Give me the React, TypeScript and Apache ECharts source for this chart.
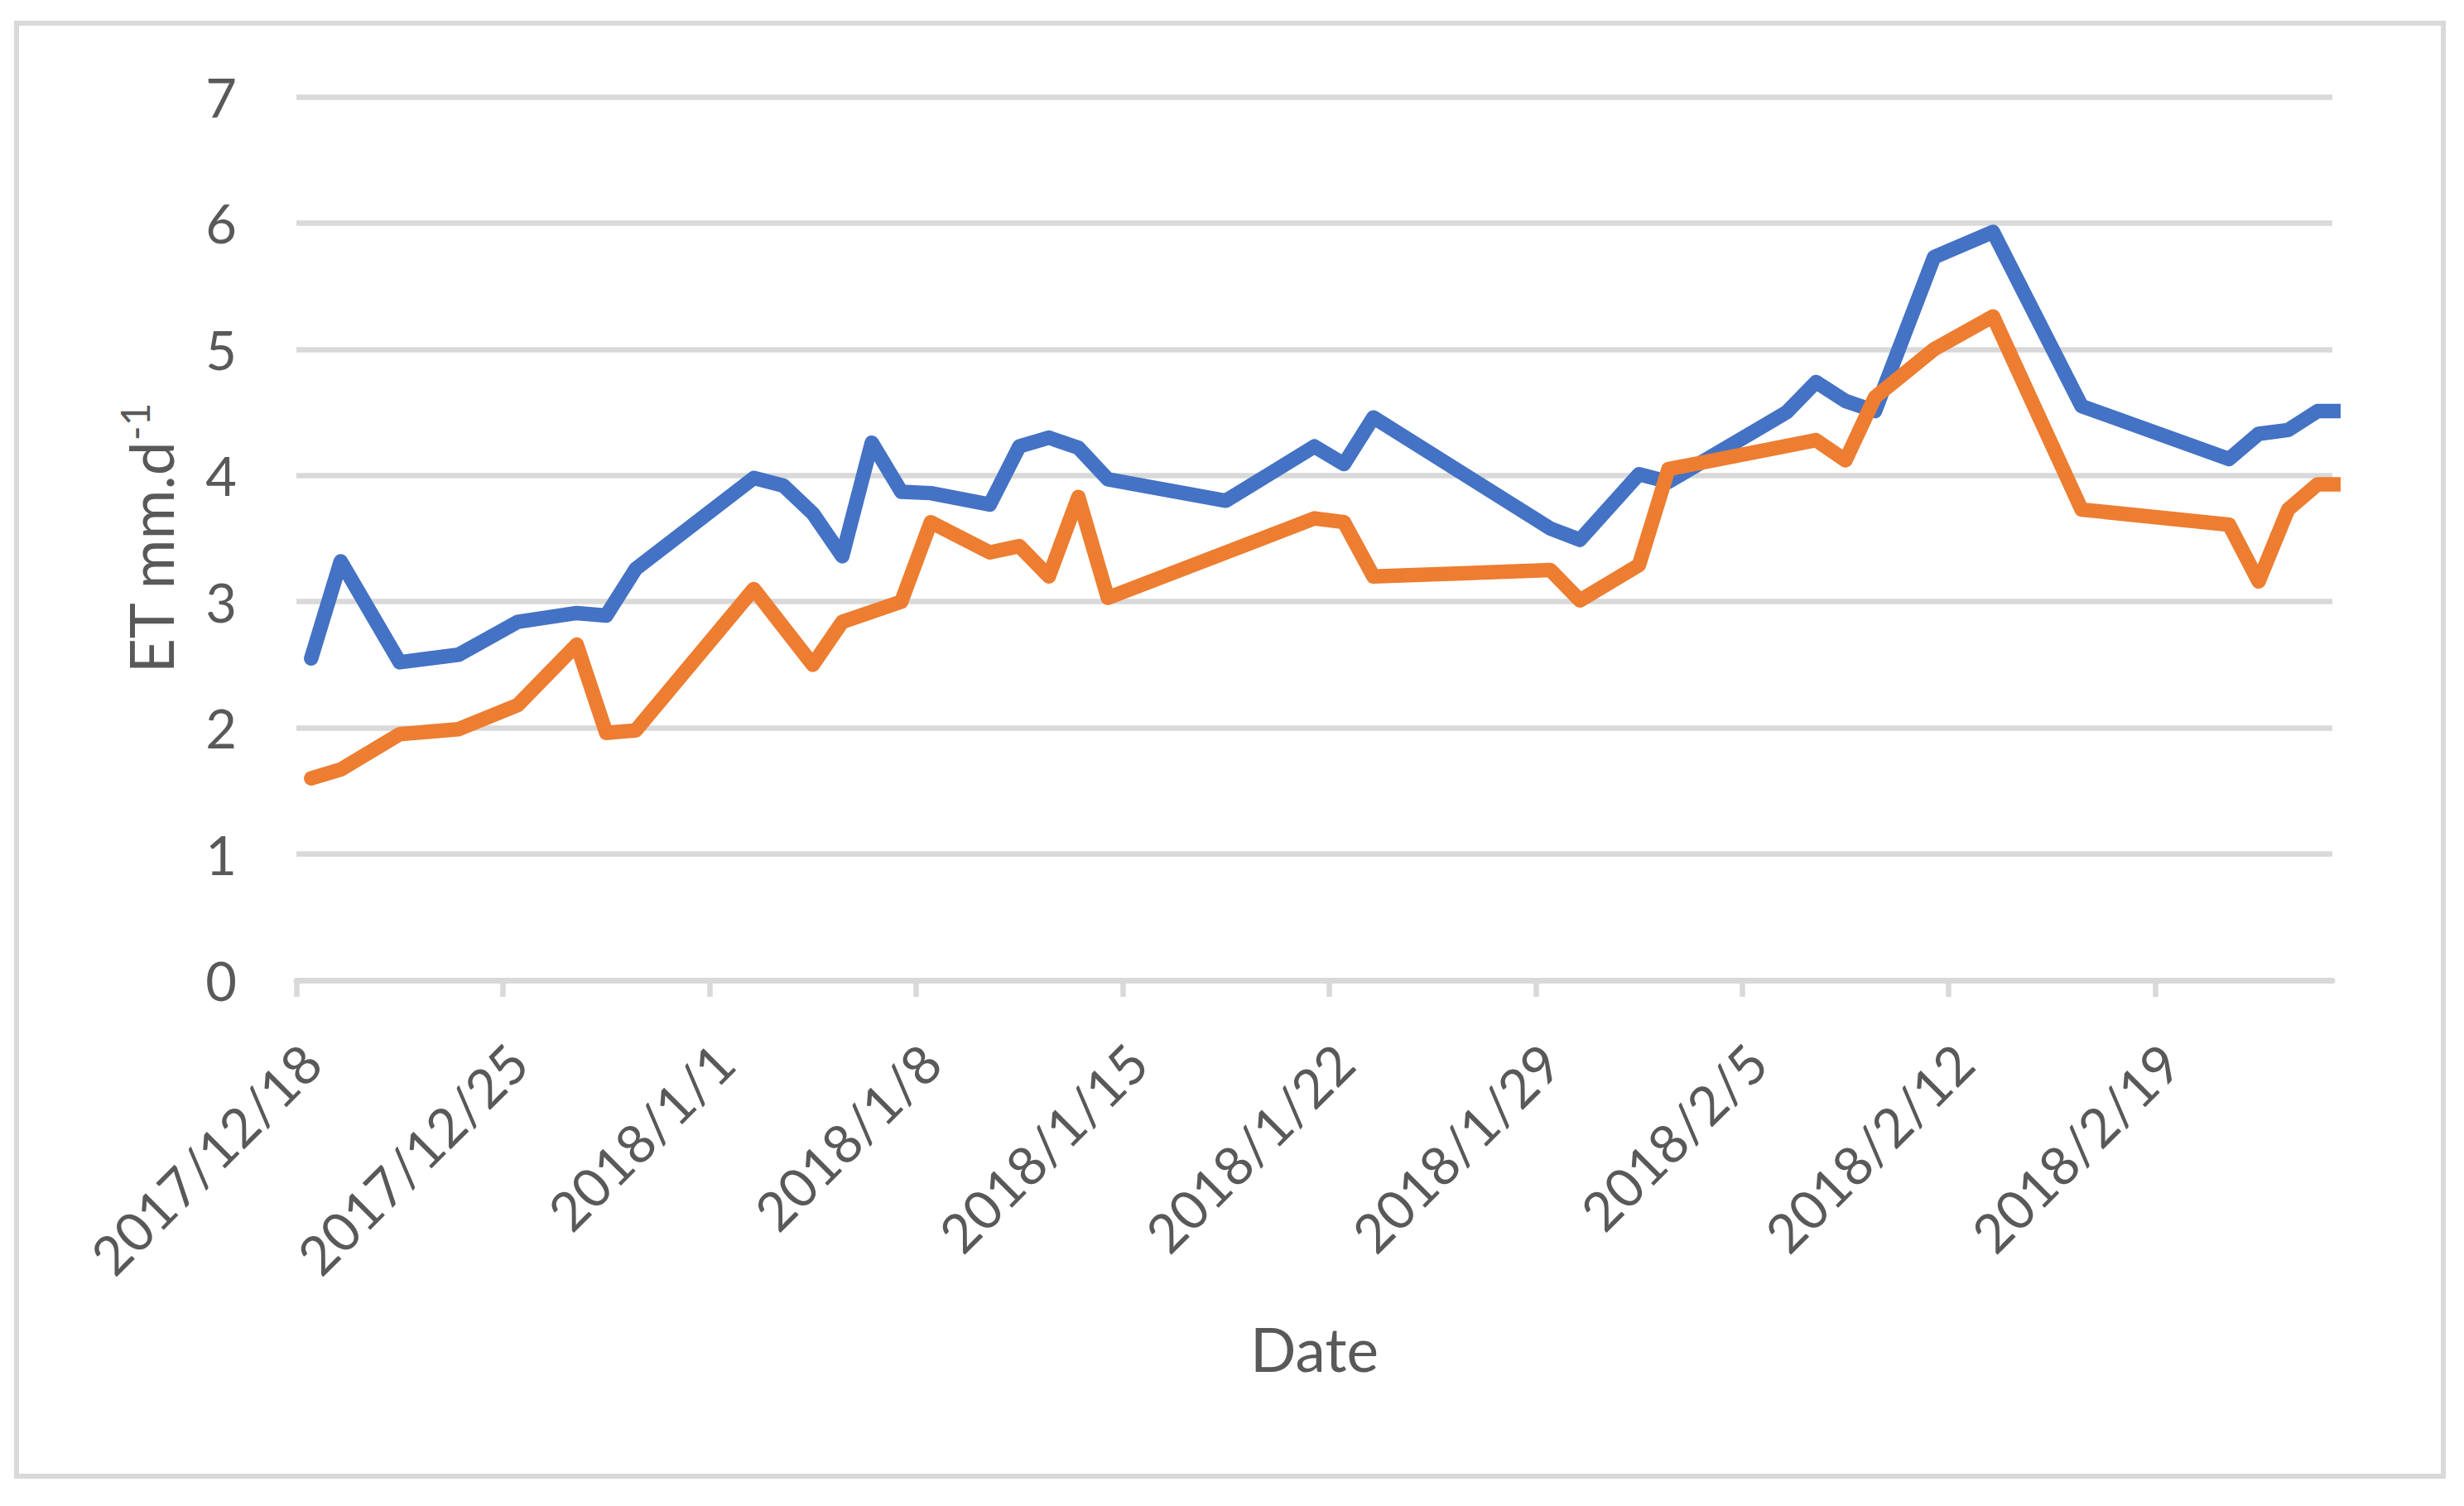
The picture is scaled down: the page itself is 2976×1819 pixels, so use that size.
import React, { useEffect, useRef } from "react";
import * as echarts from "echarts";

// ---- Data ----
const axisStart = "2017/12/18";
const axisEnd = "2018/2/25";
const xTickLabels = [
  "2017/12/18", "2017/12/25", "2018/1/1", "2018/1/8", "2018/1/15",
  "2018/1/22", "2018/1/29", "2018/2/5", "2018/2/12", "2018/2/19",
];
const yTickValues = [0, 1, 2, 3, 4, 5, 6, 7];

const blueDates = [
  "2017/12/18", "2017/12/19", "2017/12/21", "2017/12/23", "2017/12/25", "2017/12/27",
  "2017/12/28", "2017/12/29", "2018/1/2", "2018/1/3", "2018/1/4", "2018/1/5",
  "2018/1/6", "2018/1/7", "2018/1/8", "2018/1/10", "2018/1/11", "2018/1/12",
  "2018/1/13", "2018/1/14", "2018/1/18", "2018/1/21", "2018/1/22", "2018/1/23",
  "2018/1/29", "2018/1/30", "2018/2/1", "2018/2/2", "2018/2/6", "2018/2/7",
  "2018/2/8", "2018/2/9", "2018/2/11", "2018/2/13", "2018/2/16", "2018/2/21",
  "2018/2/22", "2018/2/23", "2018/2/24", "2018/2/25",
];
const blueValues = [
  2.55, 3.32, 2.52, 2.58, 2.84, 2.91,
  2.89, 3.26, 3.98, 3.92, 3.70, 3.36,
  4.26, 3.87, 3.86, 3.77, 4.23, 4.30,
  4.22, 3.97, 3.80, 4.23, 4.09, 4.46,
  3.58, 3.49, 4.01, 3.95, 4.50, 4.74,
  4.59, 4.51, 5.73, 5.93, 4.55, 4.13,
  4.33, 4.36, 4.51, 4.51,
];

const orangeDates = [
  "2017/12/18", "2017/12/19", "2017/12/21", "2017/12/23", "2017/12/25", "2017/12/27",
  "2017/12/28", "2017/12/29", "2018/1/2", "2018/1/4", "2018/1/5", "2018/1/7",
  "2018/1/8", "2018/1/10", "2018/1/11", "2018/1/12", "2018/1/13", "2018/1/14",
  "2018/1/21", "2018/1/22", "2018/1/23", "2018/1/29", "2018/1/30", "2018/2/1",
  "2018/2/2", "2018/2/7", "2018/2/8", "2018/2/9", "2018/2/11", "2018/2/13",
  "2018/2/16", "2018/2/21", "2018/2/22", "2018/2/23", "2018/2/24", "2018/2/25",
];
const orangeValues = [
  1.60, 1.67, 1.95, 1.99, 2.18, 2.66,
  1.96, 1.98, 3.10, 2.50, 2.84, 3.00,
  3.63, 3.39, 3.44, 3.20, 3.83, 3.03,
  3.66, 3.63, 3.20, 3.25, 3.01, 3.29,
  4.05, 4.28, 4.12, 4.62, 5.00, 5.26,
  3.73, 3.61, 3.16, 3.73, 3.93, 3.93,
];

const yAxisTitle = "ET mm.d";
const yAxisTitleSup = "-1";
const xAxisTitle = "Date";

// ---- helpers ----
const DAY = 86400000;
const toUTC = (s: string) => {
  const [y, m, d] = s.split("/").map(Number);
  return Date.UTC(y, m - 1, d);
};
const t0 = toUTC(axisStart);
const dayIndex = (s: string) => Math.round((toUTC(s) - t0) / DAY);
const dateLabel = (idx: number) => {
  const dt = new Date(t0 + idx * DAY);
  return `${dt.getUTCFullYear()}/${dt.getUTCMonth() + 1}/${dt.getUTCDate()}`;
};
// Excel date axis ("between tick marks"): each day occupies a slot, point at slot centre
const slotCentre = (s: string) => dayIndex(s) + 0.5;

const FONT = "Lato";
const TEXT = "#595959";
const GRID = "#d9d9d9";

export default function App() {
  const ref = useRef<HTMLDivElement>(null);

  useEffect(() => {
    document.body.style.margin = "0";
    document.body.style.overflow = "hidden";
    if (!ref.current) return;
    const chart = echarts.init(ref.current, null, { renderer: "svg" });

    const option: any = {
      animation: false,
      backgroundColor: "#ffffff",
      grid: { left: 358, right: 159, top: 117, bottom: 635, containLabel: false },
      graphic: [
        {
          type: "rect",
          shape: { x: 20, y: 28, width: 2931, height: 1755 },
          style: { fill: "none", stroke: GRID, lineWidth: 6 },
          silent: true,
        },
      ],
      xAxis: {
        type: "value",
        min: 0,
        max: dayIndex(axisEnd),
        splitLine: { show: false },
        axisLine: { show: true, lineStyle: { color: GRID, width: 7 } },
        axisTick: {
          show: true,
          length: 20,
          lineStyle: { color: GRID, width: 6.5 },
          customValues: xTickLabels.map(dayIndex),
        },
        axisLabel: {
          customValues: xTickLabels.map(slotCentre),
          formatter: (v: number) => dateLabel(Math.floor(v)),
          rotate: 45,
          margin: 88,
          fontSize: 65,
          fontFamily: FONT,
          color: TEXT,
        },
        name: xAxisTitle,
        nameLocation: "middle",
        nameGap: 408,
        nameTextStyle: { fontSize: 73, fontFamily: FONT, color: TEXT },
      },
      yAxis: {
        type: "value",
        min: yTickValues[0],
        max: yTickValues[yTickValues.length - 1],
        interval: 1,
        axisLine: { show: false },
        axisTick: { show: false },
        splitLine: { show: true, lineStyle: { color: GRID, width: 6.5 } },
        axisLabel: {
          fontSize: 65,
          fontFamily: FONT,
          color: TEXT,
          margin: 72,
        },
        name: `{a|${yAxisTitle}}{b|${yAxisTitleSup}}`,
        nameLocation: "middle",
        nameRotate: 90,
        nameGap: 140,
        nameTextStyle: {
          rich: {
            a: { fontSize: 73, fontFamily: FONT, color: TEXT, lineHeight: 80, verticalAlign: "bottom" },
            b: { fontSize: 48, fontFamily: FONT, color: TEXT, lineHeight: 80, verticalAlign: "top", padding: [0, 0, 30, 0] },
          },
        },
      },
      series: [
        {
          name: "blue",
          type: "line",
          data: blueDates.map((d, i) => [slotCentre(d), blueValues[i]]),
          showSymbol: false,
          symbol: "none",
          lineStyle: { color: "#4472C4", width: 17.5, cap: "round", join: "round" },
          itemStyle: { color: "#4472C4" },
          z: 2,
        },
        {
          name: "orange",
          type: "line",
          data: orangeDates.map((d, i) => [slotCentre(d), orangeValues[i]]),
          showSymbol: false,
          symbol: "none",
          lineStyle: { color: "#ED7D31", width: 17.5, cap: "round", join: "round" },
          itemStyle: { color: "#ED7D31" },
          z: 3,
        },
      ],
    };

    chart.setOption(option);
    return () => chart.dispose();
  }, []);

  return <div ref={ref} style={{ width: 2976, height: 1819 }} />;
}
